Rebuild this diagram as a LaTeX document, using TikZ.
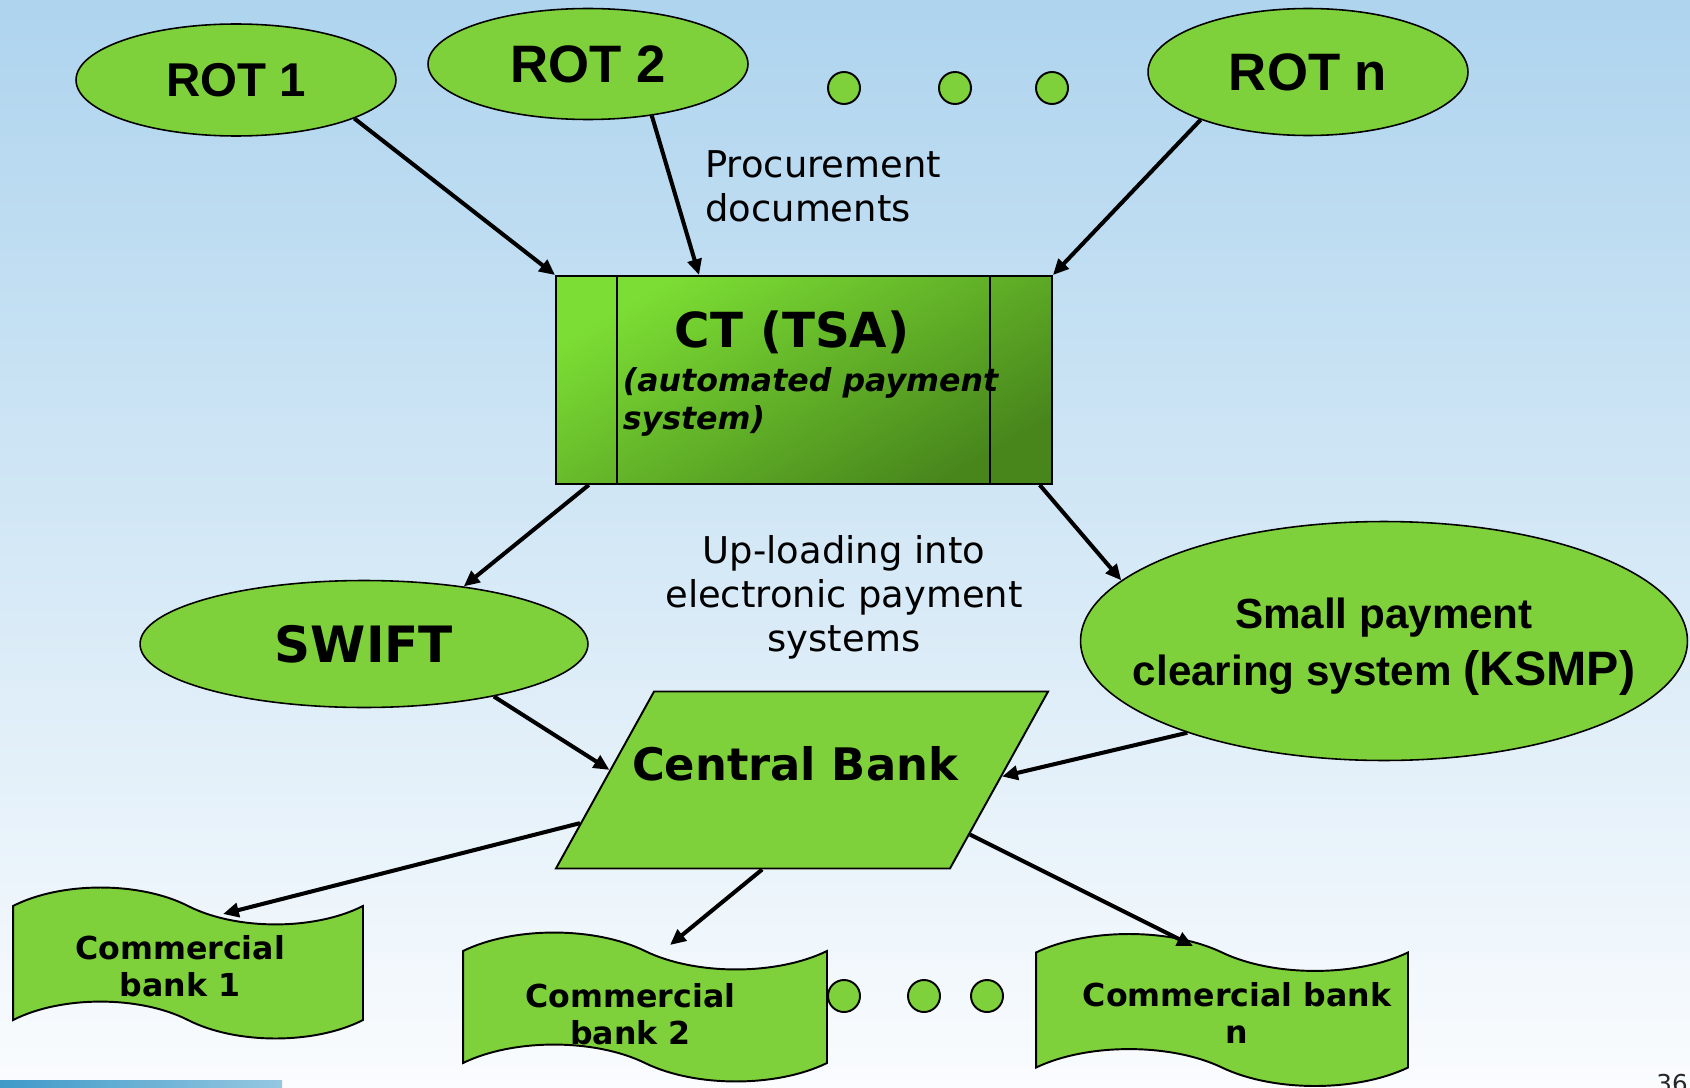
\documentclass[tikz,border=0pt]{standalone}
\usepackage{fontspec}
\setmainfont{DejaVu Sans}
\newfontfamily\arialfont{Liberation Sans}
\usetikzlibrary{arrows.meta, calc, positioning, shapes.geometric, shapes.symbols}

\definecolor{bgtop}{RGB}{174,212,238}
\definecolor{bgbot}{RGB}{250,252,254}
\definecolor{leaf}{RGB}{126,209,59}
\definecolor{leafhi}{RGB}{124,222,52}
\definecolor{leaflo}{RGB}{72,134,28}
\definecolor{strip}{RGB}{62,154,200}

\begin{document}
\begin{tikzpicture}[x=0.02cm, y=-0.02cm, >={Triangle[length=9pt,width=8pt]},
  rot/.style={draw, ellipse, fill=leaf, line width=0.9pt, inner sep=0pt, minimum width=6.4cm, font=\arialfont\bfseries\fontsize{30}{34}\selectfont},
  dot/.style={draw, circle, fill=leaf, line width=1.1pt, minimum size=0.64cm, inner sep=0pt},
  bank/.style={draw, tape, fill=leaf, line width=1.1pt, tape bend top=out and in, tape bend bottom=out and in, tape bend height=21pt, align=center, inner sep=0pt, font=\bfseries\fontsize{18}{21}\selectfont},
  note/.style={inner sep=0pt, font=\fontsize{21}{25}\selectfont},
  link/.style={->, line width=2.3pt}]
% Background
\useasboundingbox (0,0) rectangle (1690,1088);
\shade[top color=bgtop, bottom color=bgbot] (0,0) rectangle (1690,1088);
\shade[left color=strip, right color=strip!55] (0,1080) rectangle (282,1088);

% Top row
\node[rot, minimum height=2.24cm, font=\arialfont\bfseries\fontsize{27}{32}\selectfont] (rot1) at (236,80) {ROT 1};
\node[rot, minimum height=2.22cm] (rot2) at (588,64) {ROT 2};
\node[rot, minimum height=2.54cm] (rotn) at (1308,72) {ROT n};
\node[dot] (dt1) at (844,88) {};
\node[dot] (dt2) at (955,88) {};
\node[dot] (dt3) at (1052,88) {};
\node[note, align=left, anchor=west] (proc) at (705,186) {Procurement\\documents};

% Treasury
\node[draw, line width=1.1pt, minimum width=9.92cm, minimum height=4.16cm, top color=leafhi, bottom color=leaflo, shading angle=30, align=left, inner sep=0pt, font=\bfseries\itshape\fontsize{18}{21.5}\selectfont] (ct) at (804,380)
  {\hspace*{1.3cm}{\upshape\fontsize{27.5}{21.5}\selectfont CT (TSA)}\\[4pt]\hspace*{0.26cm}(automated payment\\\hspace*{0.26cm}system)\rule[-0.4cm]{0pt}{0pt}};
\draw[line width=1.1pt] ([xshift=1.24cm]ct.north west) -- ([xshift=1.24cm]ct.south west);
\draw[line width=1.1pt] ([xshift=-1.26cm]ct.north east) -- ([xshift=-1.26cm]ct.south east);

% Payment systems
\node[note, align=center] (upl) at (844,597) {Up-loading into\\electronic payment\\systems};
\node[draw, ellipse, fill=leaf, line width=0.9pt, minimum width=8.96cm, minimum height=2.54cm, font=\bfseries\fontsize{28.5}{32}\selectfont] (swift) at (364,644) {SWIFT};
\node[draw, ellipse, fill=leaf, line width=0.9pt, minimum width=12.14cm, minimum height=4.78cm, inner sep=0pt, align=center, font=\arialfont\bfseries\fontsize{24}{32}\selectfont] (ksmp) at (1384,641)
  {\rule{0pt}{24pt}Small payment\\\makebox[0pt]{clearing system {\fontsize{27.5}{32}\selectfont(KSMP)}}};
\node[draw, trapezium, trapezium left angle=61, trapezium right angle=119, fill=leaf, line width=1.1pt, minimum width=0pt, minimum height=0pt, text height=1.77cm, text depth=1.77cm, inner sep=0pt, font=\bfseries\fontsize{25.5}{30}\selectfont] (cb) at (802,780) {\makebox[5.92cm]{Central Bank\hspace*{0.28cm}}};

% Commercial banks
\node[bank, minimum width=7cm, minimum height=3.02cm] (cb1) at (188,963) {\rule{0pt}{17pt}Commercial\hspace*{0.32cm}\\bank 1\hspace*{0.32cm}};
\node[bank, minimum width=7.28cm, minimum height=2.96cm] (cb2) at (645,1007) {\rule{0pt}{21.5pt}Commercial\hspace*{0.58cm}\\bank 2\hspace*{0.58cm}};
\node[bank, minimum width=7.44cm, minimum height=3.04cm] (cbn) at (1222,1010) {\rule{0pt}{17pt}\hspace*{0.6cm}Commercial bank\\\hspace*{0.6cm}n};
\node[dot] (dt4) at (844,996) {};
\node[dot] (dt5) at (924,996) {};
\node[dot] (dt6) at (987,996) {};

% Arrows
\draw[link] (rot1.-18) -- (ct.north west);
\draw[link] (rot2.-39) -- (ct.135);
\draw[link] (rotn.204) -- (ct.north east);
\draw[link] (ct.206) -- (swift.30);
\draw[link] (ct.-24) -- (ksmp.167);
\draw[link] (swift.-22) -- (cb.177);
\draw[link] (ksmp.205) -- (cb.1);
\draw[link] (cb.191) -- ([shift={(35,-49)}]cb1.center);
\draw[link] (cb.246) -- ([shift={(25,-62)}]cb2.center);
\draw[link] (cb.-18) -- ([shift={(-29,-64)}]cbn.center);

\node[anchor=base east, inner sep=0pt, text=black!85, font=\fontsize{14}{16}\selectfont] (pg) at (1688,1092) {36};
\end{tikzpicture}
\end{document}
